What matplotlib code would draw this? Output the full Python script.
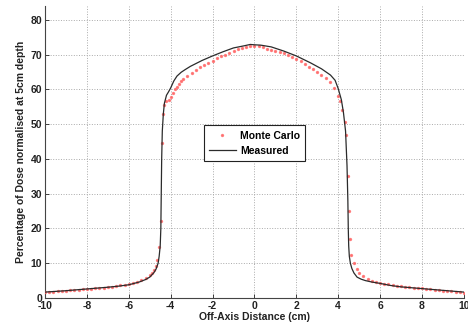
import matplotlib
matplotlib.use("Agg")
import matplotlib.pyplot as plt

# Measured profile
meas_x = [-10, -9, -8, -7, -6.5, -6, -5.5, -5.2, -5.0, -4.8, -4.7, -4.6, -4.55, -4.5, -4.47,
          -4.45, -4.43, -4.4, -4.35, -4.3, -4.2, -4.1, -4.0, -3.85, -3.7, -3.5, -3.3, -3.06,
          -2.5, -2.0, -1.5, -1.0, -0.5, -0.2, 0, 0.3, 0.8, 1.4, 2.0, 2.68, 3.2, 3.63, 3.85,
          4.0, 4.15, 4.25, 4.35, 4.42, 4.46, 4.48, 4.5, 4.53, 4.58, 4.65, 4.75, 4.9, 5.1, 5.3,
          5.6, 6.0, 6.5, 7, 8, 9, 10]
meas_y = [1.7, 2.1, 2.6, 3.1, 3.4, 3.8, 4.6, 5.3, 6.0, 7.3, 8.3, 10.0, 12, 15, 20,
          30, 40, 48, 53, 56.0, 58.3, 59.3, 60.4, 62.4, 63.8, 64.9, 65.7, 66.6,
          68.3, 69.6, 70.8, 71.9, 72.5, 72.9, 72.8, 72.7, 72.2, 71.0, 69.6, 67.6, 65.9, 64.1, 62.6,
          60.2, 57, 53.3, 48, 38, 28, 20, 15, 12, 10, 8.5, 7.2, 6.0, 5.4, 5.0,
          4.6, 4.2, 3.6, 3.2, 2.7, 2.2, 1.7]

# Monte Carlo profile
mc_x = [-10.0, -9.8, -9.6, -9.4, -9.2, -9.0, -8.8, -8.6, -8.4, -8.2, -8.0, -7.8, -7.6, -7.4,
        -7.2, -7.0, -6.8, -6.6, -6.4, -6.2, -6.0, -5.8, -5.6, -5.4, -5.2, -5.0, -4.9, -4.8,
        -4.7, -4.66, -4.55, -4.47, -4.42, -4.38, -4.3, -4.2, -4.1, -4.0, -3.9, -3.8, -3.7,
        -3.6, -3.5, -3.4, -3.2, -3.0, -2.8, -2.6, -2.4, -2.2, -2.0, -1.8, -1.6, -1.4, -1.2,
        -1.0, -0.8, -0.6, -0.4, -0.2, 0.0, 0.2, 0.4, 0.6, 0.8, 1.0, 1.2, 1.4, 1.6, 1.8, 2.0,
        2.2, 2.4, 2.6, 2.8, 3.0, 3.2, 3.4, 3.6, 3.8, 4.0, 4.1, 4.2, 4.3, 4.35, 4.45, 4.5,
        4.55, 4.62, 4.76, 4.9, 5.0, 5.2, 5.4, 5.6, 5.8, 6.0, 6.2, 6.4, 6.6, 6.8, 7.0, 7.2,
        7.4, 7.6, 7.8, 8.0, 8.2, 8.4, 8.6, 8.8, 9.0, 9.2, 9.4, 9.6, 9.8, 10.0]
mc_y = [1.6, 1.7, 1.8, 1.9, 2.0, 2.1, 2.2, 2.3, 2.4, 2.5, 2.6, 2.7, 2.8, 2.9,
        3.0, 3.1, 3.3, 3.4, 3.6, 3.8, 4.0, 4.3, 4.7, 5.1, 5.7, 6.5, 7.2, 8.0,
        9.2, 11.0, 14.6, 22.0, 44.5, 53.0, 55.5, 56.5, 57.0, 57.8, 59.0, 60.0, 60.8,
        61.5, 62.3, 63.0, 63.9, 64.7, 65.5, 66.3, 67.0, 67.6, 68.2, 68.9, 69.5, 70.0, 70.5,
        71.0, 71.5, 71.9, 72.2, 72.4, 72.5, 72.4, 72.1, 71.7, 71.3, 71.0, 70.7, 70.3, 69.8, 69.3, 68.7,
        68.0, 67.3, 66.5, 65.7, 65.0, 64.2, 63.3, 62.1, 60.5, 58.2, 56.5, 54.0, 50.5, 47.0, 35.0, 25.0,
        17.0, 12.5, 10.1, 8.3, 7.3, 6.2, 5.5, 5.0, 4.6, 4.3, 4.1, 3.9, 3.7, 3.5, 3.4, 3.2,
        3.1, 3.0, 2.9, 2.8, 2.6, 2.5, 2.4, 2.3, 2.1, 2.0, 1.9, 1.8, 1.7, 1.5]

x_ticks = [-10, -8, -6, -4, -2, 0, 2, 4, 6, 8, 10]
y_ticks = [0, 10, 20, 30, 40, 50, 60, 70, 80]

plt.rcParams['font.family'] = ['Liberation Sans', 'DejaVu Sans']

fig = plt.figure(figsize=(4.68, 3.32), dpi=100)
ax = fig.add_axes([0.0962, 0.1024, 0.895, 0.88])

ax.plot(mc_x, mc_y, linestyle='none', marker='.', markersize=2.8,
        color='#ff6060', alpha=0.75, label='Monte Carlo', zorder=3)
ax.plot(meas_x, meas_y, color='#2b2b2b', linewidth=0.9, label='Measured', zorder=4)

ax.set_xlim(-10, 10)
ax.set_ylim(0, 84)
ax.set_xticks(x_ticks)
ax.set_yticks(y_ticks)
ax.set_xticklabels([str(t) for t in x_ticks])
ax.set_yticklabels([str(t) for t in y_ticks])
ax.tick_params(direction='in', length=3, width=0.6, labelsize=7.5, colors='#222222', pad=2)
for lab in ax.get_xticklabels() + ax.get_yticklabels():
    lab.set_fontweight('bold')

ax.grid(True, linestyle=':', color='#aaaaaa', linewidth=0.7)
ax.spines['top'].set_visible(False)
ax.spines['right'].set_visible(False)
for s in ['left', 'bottom']:
    ax.spines[s].set_color('#444444')
    ax.spines[s].set_linewidth(0.8)

ax.set_xlabel('Off-Axis Distance (cm)', fontsize=7.5, fontweight='bold', color='#222222', labelpad=1)
ax.set_ylabel('Percentage of Dose normalised at 5cm depth', fontsize=7.5, fontweight='bold',
              color='#222222', labelpad=3)

leg = ax.legend(loc='center', bbox_to_anchor=(0.50, 0.53), fontsize=7.5, frameon=True,
                fancybox=False, edgecolor='#222222', framealpha=1, borderpad=0.5,
                handlelength=2.6, handletextpad=0.4, labelspacing=0.5)
leg.get_frame().set_linewidth(0.8)
for t in leg.get_texts():
    t.set_fontweight('bold')

fig.savefig('out.png', dpi=100)
